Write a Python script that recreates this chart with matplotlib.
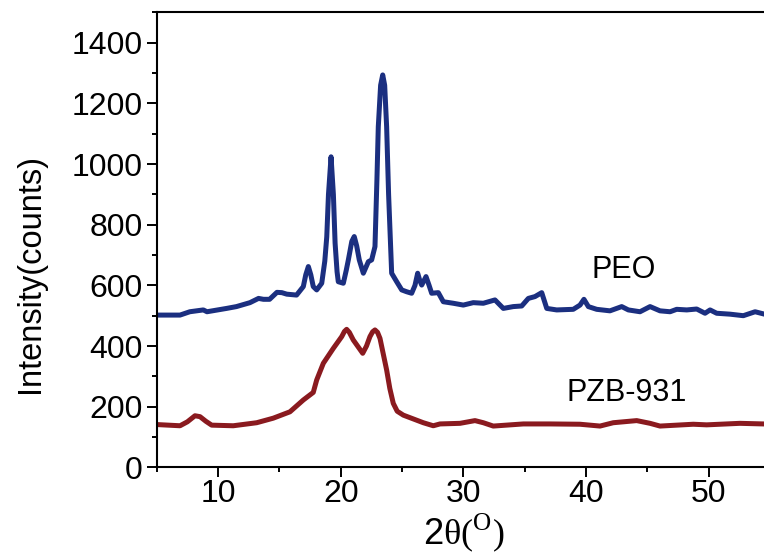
import matplotlib
matplotlib.use('Agg')
import matplotlib.pyplot as plt
from matplotlib.ticker import MultipleLocator

plt.rcParams['font.family'] = ['Liberation Sans', 'DejaVu Sans']
plt.rcParams['mathtext.fontset'] = 'custom'
plt.rcParams['mathtext.rm'] = 'Liberation Serif'
plt.rcParams['mathtext.sf'] = 'Liberation Sans'

# PEO pattern (2theta in degrees, intensity in counts)
peo_2theta = [5.0, 6.9, 7.7, 8.8, 9.1, 10.7, 11.5, 12.6, 13.3, 13.7, 14.2, 14.8,
              15.2, 15.6, 16.4, 16.95, 17.15, 17.36, 17.56, 17.76, 18.04, 18.45,
              18.7, 18.86, 19.0, 19.21, 19.4, 19.54, 19.7, 19.8, 20.21, 20.45,
              20.62, 20.9, 21.1, 21.3, 21.51, 21.84, 22.25, 22.52, 22.79, 22.95,
              23.06, 23.25, 23.42, 23.58, 23.74, 23.9, 24.15, 24.56, 24.97, 25.37,
              25.78, 26.05, 26.27, 26.45, 26.6, 26.95, 27.2, 27.41, 27.95, 28.36,
              29.17, 29.99, 30.8, 31.62, 32.57, 33.25, 34.06, 34.75, 35.29, 35.83,
              36.38, 36.79, 37.6, 38.95, 39.5, 39.82, 40.18, 40.86, 41.94, 42.9,
              43.44, 44.39, 45.21, 46.02, 46.84, 47.38, 48.2, 49.01, 49.69, 50.1,
              50.64, 51.73, 52.81, 53.77, 54.44]
peo_counts = [502, 502, 513, 519, 513, 524, 530, 543, 557, 554, 554, 577,
              576, 571, 568, 596, 635, 662, 635, 596, 585, 607,
              680, 760, 900, 1024, 900, 739, 645, 612, 607, 650,
              684, 745, 761, 730, 684, 640, 678, 684, 728, 950,
              1123, 1260, 1294, 1260, 1123, 900, 640, 612, 585, 579,
              574, 600, 640, 615, 601, 629, 600, 574, 576, 546,
              541, 535, 543, 541, 552, 524, 530, 532, 557, 563,
              576, 524, 519, 521, 535, 554, 530, 521, 516, 530,
              519, 513, 530, 516, 513, 521, 519, 522, 508, 519,
              508, 505, 500, 513, 506]

# PZB-931 pattern
pzb_2theta = [5.0, 6.9, 7.5, 8.12, 8.53, 9.0, 9.48, 11.24, 13.15, 14.5, 15.86,
              16.95, 17.76, 18.04, 18.58, 19.39, 20.08, 20.3, 20.48, 20.7, 21.02,
              21.79, 22.1, 22.38, 22.6, 22.79, 23.0, 23.2, 23.74, 24.0, 24.28,
              24.6, 25.1, 26.73, 27.54, 28.09, 29.72, 30.94, 31.62, 32.43, 34.88,
              37.05, 39.5, 41.13, 42.21, 44.12, 45.21, 46.02, 48.73, 49.82, 52.53,
              54.44]
pzb_counts = [141, 137, 150, 170, 167, 152, 139, 137, 147, 162, 183,
              222, 247, 288, 343, 392, 431, 448, 455, 445, 420,
              376, 400, 431, 447, 453, 445, 425, 321, 260, 211,
              185, 172, 147, 137, 143, 145, 154, 147, 136, 143,
              143, 142, 136, 147, 154, 145, 136, 142, 140, 145,
              143]

fig = plt.figure(figsize=(7.64, 5.54), dpi=100)
# axes reaches past the right edge of the figure, as in the cropped original
ax = fig.add_axes([0.2051, 0.1565, 0.803, 0.821])

ax.plot(peo_2theta, peo_counts, color='#1b2f80', lw=3.6, solid_joinstyle='round')
ax.plot(pzb_2theta, pzb_counts, color='#8a1a1f', lw=3.6, solid_joinstyle='round')

ax.text(43.1, 650, 'PEO', fontsize=22, ha='center', va='center')
ax.text(43.3, 245, 'PZB-931', fontsize=22, ha='center', va='center')

ax.set_xlim(5, 55)
ax.set_ylim(0, 1500)
ax.xaxis.set_minor_locator(MultipleLocator(5))
ax.yaxis.set_minor_locator(MultipleLocator(100))
ax.set_xticks([10, 20, 30, 40, 50])
ax.set_yticks(range(0, 1401, 200))
ax.tick_params(which='major', direction='out', length=7.2, width=1.4, labelsize=23)
ax.tick_params(which='minor', direction='out', length=3.6, width=1.4)
ax.tick_params(axis='y', which='major', pad=3)
ax.tick_params(axis='x', which='major', pad=1)
for s in ax.spines.values():
    s.set_linewidth(1.5)

ax.set_xlabel(r'$\mathsf{2}\mathrm{\theta(}^{\mathrm{O}}\mathrm{)}$', fontsize=26, labelpad=2)
fig.text(31 / 764, 1 - 274 / 554, 'Intensity(counts)', fontsize=23.5,
         rotation=90, ha='center', va='center')

fig.savefig('out.png', dpi=100)
